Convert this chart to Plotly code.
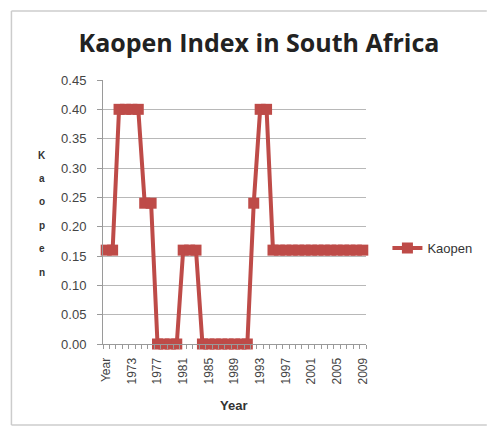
import plotly.graph_objects as go

categories = ["Year"] + [str(y) for y in range(1970, 2010)]
kaopen = ([0.16, 0.16] + [0.40] * 4 + [0.24] * 2 + [0.0] * 4 + [0.16] * 3
          + [0.0] * 8 + [0.24] + [0.40] * 2 + [0.16] * 15)
tick_labels = categories[::4]
y_ticks = [i * 0.05 for i in range(10)]

xpos = list(range(len(categories)))
red = "#BE4B48"

OFF = 8  # page body margin
W, H = 497 - 2 * OFF, 434 - 2 * OFF
# plot area in screen pixels
SL, SR, ST, SB = 103, 373, 80, 344
L, R, T, B = SL - OFF, SR - OFF, ST - OFF, SB - OFF
pw, ph = R - L, B - T
def px(x): return (x - OFF - L) / pw
def py(y): return (B - (y - OFF)) / ph

fig = go.Figure()
fig.add_trace(go.Scatter(
    x=xpos, y=kaopen, mode="lines+markers", name="Kaopen",
    line=dict(color=red, width=4),
    marker=dict(symbol="square", size=11, color=red),
    cliponaxis=False,
))

border = dict(color="#cccccc", width=1.5)
bottom = OFF + H - 1
fig.update_layout(
    width=W, height=H,
    margin=dict(l=L, r=W - R, t=T, b=H - B),
    paper_bgcolor="white", plot_bgcolor="white",
    showlegend=True,
    legend=dict(x=px(395), y=py(248), xanchor="left", yanchor="middle",
                font=dict(family="Liberation Sans", size=13, color="#333333"),
                itemwidth=30, bgcolor="rgba(0,0,0,0)"),
    title=dict(text="<b>Kaopen Index in South Africa</b>", x=(259 - OFF) / W, xanchor="center",
               y=1 - (43 - OFF) / H, yanchor="middle",
               font=dict(family="Open Sans", size=25, color="#222222")),
    xaxis=dict(range=[-0.5, len(categories) - 0.5], tickmode="array",
               tickvals=xpos[::4], ticktext=tick_labels, tickangle=-90,
               tickfont=dict(family="Liberation Sans", size=12, color="#444444"),
               showgrid=False, zeroline=False, showline=True, linecolor="#9a9a9a",
               linewidth=1, ticks="outside", ticklen=4, tickcolor="rgba(0,0,0,0)",
               ticklabelstandoff=4,
               minor=dict(ticks="outside", tick0=-0.5, dtick=1, ticklen=4,
                          tickcolor="#9a9a9a", showgrid=False)),
    yaxis=dict(range=[0, 0.45], tickmode="array", tickvals=y_ticks,
               tickformat=".2f",
               tickfont=dict(family="Liberation Sans", size=13, color="#444444"),
               showgrid=True, gridcolor="#b8b8b8", gridwidth=1,
               zeroline=False, showline=True, linecolor="#9a9a9a", linewidth=1,
               ticks="outside", ticklen=5, tickcolor="#9a9a9a",
               ticklabelstandoff=8),
    shapes=[
        dict(type="line", xref="paper", yref="paper", x0=px(9), x1=px(497),
             y0=py(11), y1=py(11), line=border, layer="below"),
        dict(type="line", xref="paper", yref="paper", x0=px(9), x1=px(9),
             y0=py(11), y1=py(bottom), line=border, layer="below"),
        dict(type="line", xref="paper", yref="paper", x0=px(9), x1=px(497),
             y0=py(bottom), y1=py(bottom), line=border, layer="below"),
    ],
    annotations=[
        dict(text="<b>Year</b>", xref="paper", yref="paper", x=px(237), y=py(405),
             xanchor="center", yanchor="middle", showarrow=False,
             font=dict(family="Liberation Sans", size=13, color="#333333")),
    ] + [
        dict(text="<b>" + ch + "</b>", xref="paper", yref="paper",
             x=px(40), y=py(155 + 23.4 * i), xanchor="center", yanchor="middle",
             showarrow=False,
             font=dict(family="Liberation Sans", size=10, color="#333333"))
        for i, ch in enumerate("Kaopen")
    ],
)

fig.write_html("out.html")
